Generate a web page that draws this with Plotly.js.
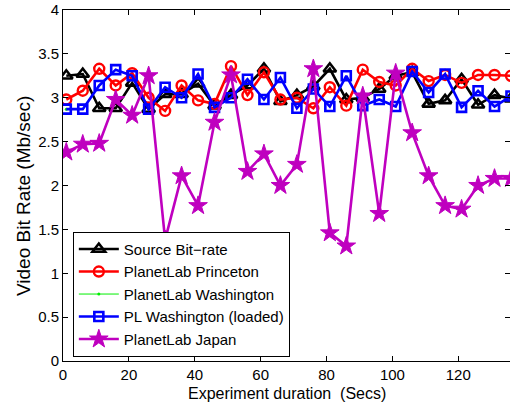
<!DOCTYPE html>
<html>
<head>
<meta charset="utf-8">
<script src="https://cdn.plot.ly/plotly-3.0.1.min.js"></script>
<style>
html,body{margin:0;padding:0;background:#fff;}
#chart{width:510px;height:406px;}
</style>
</head>
<body>
<div id="chart"></div>
<script>
// Experiment time (s)
var timeSecs = [1,6,11,16,21,26,31,36,41,46,51,56,61,66,71,76,81,86,91,96,101,106,111,116,121,126,131,136];

var sourceBitRate = [3.25,3.27,2.88,2.88,3.17,2.87,3.04,3.04,3.16,2.91,3.03,3.14,3.33,2.96,3.03,3.13,3.33,2.98,3.00,3.10,3.25,3.29,2.93,2.97,3.21,2.92,3.03,2.99];
var princeton = [2.98,3.08,3.33,3.14,3.28,3.00,2.85,3.14,2.97,2.93,3.36,3.03,3.29,2.98,3.00,2.88,3.12,2.91,3.32,3.18,3.14,3.33,3.19,3.26,3.17,3.26,3.26,3.25];
var washingtonTime = [1];
var washington = [2.87];
var washingtonLoaded = [2.87,2.87,3.14,3.32,3.25,2.87,3.12,3.00,3.27,2.89,3.00,3.21,2.98,3.23,2.88,3.10,2.90,3.25,2.91,2.98,2.90,3.30,3.06,3.27,2.89,3.08,2.90,3.02];
var japan = [2.38,2.47,2.48,2.98,2.80,3.25,1.38,2.11,1.77,2.72,3.26,2.16,2.36,2.00,2.24,3.33,1.46,1.31,3.02,1.68,3.28,2.60,2.11,1.77,1.73,2.00,2.08,2.08];

var xTicks = [0,20,40,60,80,100,120];
var yTicks = [0,0.5,1,1.5,2,2.5,3,3.5,4];
var xTitle = "Experiment duration  (Secs)";
var yTitle = "Video Bit Rate (Mb/sec)";

var FONT = "Liberation Sans, Arial, Helvetica, sans-serif";

var traces = [
  {x: timeSecs, y: sourceBitRate, name: "Source Bit\u2212rate", mode: "lines+markers",
   line: {color: "#000000", width: 2.6},
   marker: {symbol: "triangle-up-open", size: 11, color: "#000000", line: {width: 2.6, color: "#000000"}}},
  {x: timeSecs, y: princeton, name: "PlanetLab Princeton", mode: "lines+markers",
   line: {color: "#ff0000", width: 2.6},
   marker: {symbol: "circle-open", size: 10, color: "#ff0000", line: {width: 2.4, color: "#ff0000"}}},
  {x: washingtonTime, y: washington, name: "PlanetLab Washington", mode: "lines+markers",
   line: {color: "#00ee00", width: 1},
   marker: {symbol: "circle", size: 3, color: "#00ee00"}},
  {x: timeSecs, y: washingtonLoaded, name: "PL Washington (loaded)", mode: "lines+markers",
   line: {color: "#0000ff", width: 2.6},
   marker: {symbol: "square-open", size: 9, color: "#0000ff", line: {width: 2.6, color: "#0000ff"}}},
  {x: timeSecs, y: japan, name: "PlanetLab Japan", mode: "lines+markers",
   line: {color: "#bf00bf", width: 2.6},
   marker: {symbol: "star", size: 14, color: "#bf00bf", line: {width: 1, color: "#bf00bf"}}}
];

var layout = {
  width: 510, height: 406,
  margin: {l: 63, r: 0, t: 10, b: 45, pad: 0},
  paper_bgcolor: "#ffffff", plot_bgcolor: "#ffffff",
  font: {family: FONT, color: "#000000", size: 15},
  showlegend: true,
  xaxis: {
    range: [0, 135.7], tickvals: xTicks, ticktext: xTicks.map(String),
    ticks: "inside", ticklen: 5, tickcolor: "#000", tickwidth: 1,
    showline: true, linecolor: "#000", linewidth: 1, mirror: "ticks",
    showgrid: false, zeroline: false,
    tickfont: {size: 15, family: FONT}
  },
  yaxis: {
    range: [0, 4], tickvals: yTicks, ticktext: yTicks.map(String),
    ticks: "inside", ticklen: 5, tickcolor: "#000", tickwidth: 1,
    showline: true, linecolor: "#000", linewidth: 1, mirror: "ticks",
    showgrid: false, zeroline: false,
    tickfont: {size: 15, family: FONT}
  },
  annotations: [
    {text: xTitle, xref: "paper", yref: "paper", x: 0.5, y: -0.092,
     xanchor: "center", yanchor: "middle", showarrow: false,
     font: {size: 16, family: FONT, color: "#000"}},
    {text: yTitle, xref: "paper", yref: "paper", x: -0.0895, y: 0.47,
     xanchor: "center", yanchor: "middle", showarrow: false, textangle: -90,
     font: {size: 19, family: FONT, color: "#000"}}
  ],
  legend: {
    x: 0.022, y: 0.012, xanchor: "left", yanchor: "bottom",
    bgcolor: "#ffffff", bordercolor: "#000000", borderwidth: 1,
    font: {size: 15, family: FONT, color: "#000"},
    itemwidth: 40, tracegroupgap: 0
  }
};

Plotly.newPlot("chart", traces, layout, {displayModeBar: false, staticPlot: true});
</script>
</body>
</html>
